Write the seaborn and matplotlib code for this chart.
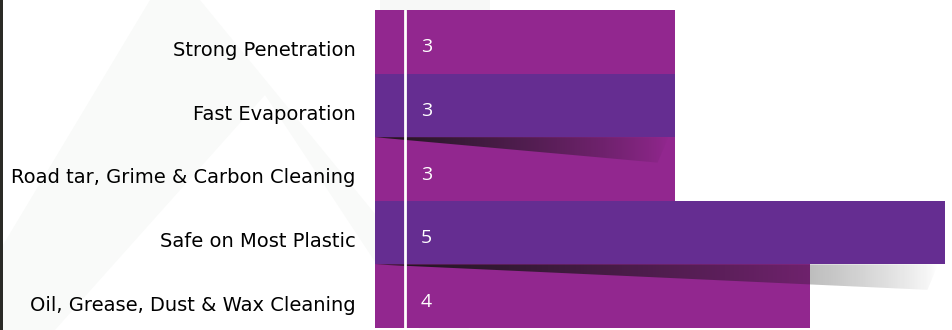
import numpy as np
import pandas as pd
import matplotlib.pyplot as plt
import seaborn as sns
from matplotlib.patches import Polygon, Rectangle
from matplotlib.transforms import ScaledTranslation

# Données du graphique
features = ['Strong Penetration', 'Fast Evaporation', 'Road tar, Grime & Carbon Cleaning',
            'Safe on Most Plastic', 'Oil, Grease, Dust & Wax Cleaning']
scores = [3, 3, 3, 5, 4]
bar_colors = ['#92278f', '#652d91', '#92278f', '#652d91', '#92278f']

df = pd.DataFrame({'feature': features, 'score': scores})

sns.set_theme(style='white')
plt.rcParams['font.family'] = ['DejaVu Sans']

W, H = 952, 330
fig = plt.figure(figsize=(W / 100, H / 100), dpi=100)
fig.patch.set_facecolor('white')

# Filigrane en arrière-plan (forme très claire)
bg = fig.add_axes([0, 0, 1, 1], zorder=0)
bg.set_xlim(0, W)
bg.set_ylim(H, 0)
bg.axis('off')
bg.add_patch(Polygon([(0, 330), (0, 250), (150, 0), (200, 0), (470, 330)],
                     closed=True, facecolor='#f9faf9', edgecolor='none'))
bg.add_patch(Polygon([(55, 330), (265, 95), (420, 330)],
                     closed=True, facecolor='white', edgecolor='none'))
bg.add_patch(Polygon([(380, 0), (490, 0), (490, 10), (380, 10)],
                     closed=True, facecolor='#f7f8f7', edgecolor='none'))
bg.add_patch(Rectangle((0, 0), 3, 330, facecolor='#2a2a26', edgecolor='none'))

ax = fig.add_axes([375 / W, 2 / H, 570 / W, 318 / H], zorder=1)
ax.set_facecolor('none')
sns.barplot(data=df, y='feature', x='score', hue='feature', palette=bar_colors,
            saturation=1, width=1.0, linewidth=0, legend=False, ax=ax)

xmin = 0.775

# Ombres en dégradé sous les barres violettes
grad = np.zeros((1, 256, 4))
grad[..., :3] = 0.08
grad[..., 3] = np.linspace(0.9, 0.0, 256) ** 0.8
bars = ax.patches
for i in [1, 3]:
    b = bars[i]
    x0 = xmin
    x1 = b.get_x() + b.get_width() - 0.05
    y0 = b.get_y() + b.get_height()
    depth = 0.4
    poly = Polygon([(x0, y0), (x1, y0), (x1 - 0.08, y0 + depth)], closed=True,
                   facecolor='none', edgecolor='none', transform=ax.transData)
    ax.add_patch(poly)
    im = ax.imshow(grad, extent=(x0, x1, y0 + depth, y0), aspect='auto',
                   interpolation='bilinear', zorder=3)
    im.set_clip_path(poly)

ax.set_xlim(xmin, 5.0)
ax.set_ylim(4.5, -0.5)

# Ligne blanche verticale
ax.axvline(1, color='white', lw=2, zorder=4)

# Valeurs dans les barres
for i, v in enumerate(scores):
    ax.annotate(str(v), (1, i), xytext=(11, -4), textcoords='offset points',
                ha='left', va='center', color='white', fontsize=14,
                family=['Open Sans', 'DejaVu Sans'], zorder=5)

ax.set_xlabel('')
ax.set_ylabel('')
ax.set_xticks([])
ax.tick_params(axis='y', length=0, pad=14)
shift = ScaledTranslation(0, -5 / 72, fig.dpi_scale_trans)
for lbl in ax.get_yticklabels():
    lbl.set_fontsize(14)
    lbl.set_color('black')
    lbl.set_transform(lbl.get_transform() + shift)
sns.despine(ax=ax, left=True, bottom=True)

plt.savefig('out.png', dpi=100)
